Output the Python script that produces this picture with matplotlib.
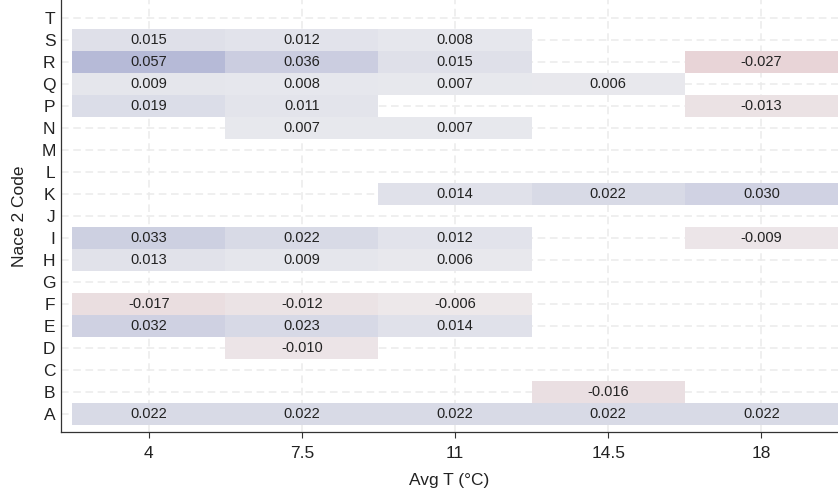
import numpy as np
import matplotlib
matplotlib.use("Agg")
import matplotlib.pyplot as plt
from matplotlib.colors import LinearSegmentedColormap, Normalize

plt.rcParams['font.family'] = ['Liberation Sans', 'DejaVu Sans']

# rows of the heatmap, bottom to top
codes = ['A', 'B', 'C', 'D', 'E', 'F', 'G', 'H', 'I', 'J',
         'K', 'L', 'M', 'N', 'P', 'Q', 'R', 'S', 'T']
temps = [4, 7.5, 11, 14.5, 18]
temp_labels = ['4', '7.5', '11', '14.5', '18']

# effect per code (row) and temperature (column); None = no tile
effects = [
    [0.022, 0.022, 0.022, 0.022, 0.022],    # A
    [None, None, None, -0.016, None],       # B
    [None, None, None, None, None],         # C
    [None, -0.010, None, None, None],       # D
    [0.032, 0.023, 0.014, None, None],      # E
    [-0.017, -0.012, -0.006, None, None],   # F
    [None, None, None, None, None],         # G
    [0.013, 0.009, 0.006, None, None],      # H
    [0.033, 0.022, 0.012, None, -0.009],    # I
    [None, None, None, None, None],         # J
    [None, None, 0.014, 0.022, 0.030],      # K
    [None, None, None, None, None],         # L
    [None, None, None, None, None],         # M
    [None, 0.007, 0.007, None, None],       # N
    [0.019, 0.011, None, None, -0.013],     # P
    [0.009, 0.008, 0.007, 0.006, None],     # Q
    [0.057, 0.036, 0.015, None, -0.027],    # R
    [0.015, 0.012, 0.008, None, None],      # S
    [None, None, None, None, None],         # T
]

cmap = LinearSegmentedColormap.from_list('div', ['#E1B8BC', '#EEEEF0', '#B6BAD7'])
norm = Normalize(vmin=-0.057, vmax=0.057)

fig = plt.figure(figsize=(8.38, 4.92), dpi=100)
ax = fig.add_axes([0.073, 0.122, 0.927, 0.878])

ax.grid(True, color='#EBEBEB', linestyle=(0, (5, 3)), linewidth=1.1, zorder=0)
ax.set_axisbelow(True)

tile_w = 3.5
for i, code in enumerate(codes):
    for j, t in enumerate(temps):
        v = effects[i][j]
        if v is None:
            continue
        ax.bar(t, 1.0, width=tile_w, bottom=i - 0.5, color=cmap(norm(v)),
               linewidth=0, zorder=2)
        ax.text(t, i, '%.3f' % v, ha='center', va='center', fontsize=10.5,
                color='#222222', zorder=3)

ax.set_xlim(2.0, 19.75)
ax.set_ylim(-0.82, 18.82)
ax.set_xticks(temps)
ax.set_xticklabels(temp_labels)
ax.set_yticks(range(len(codes)))
ax.set_yticklabels(codes)
ax.tick_params(axis='x', length=4, width=0.8, color='#333333', labelsize=12.5,
               labelcolor='#222222', pad=6)
ax.tick_params(axis='y', length=0, labelsize=12.5, labelcolor='#222222', pad=4)

for s in ['top', 'right']:
    ax.spines[s].set_visible(False)
for s in ['left', 'bottom']:
    ax.spines[s].set_color('#333333')
    ax.spines[s].set_linewidth(0.9)

ax.set_xlabel('Avg T (°C)', fontsize=12.5, color='#222222', labelpad=9)
ax.set_ylabel('Nace 2 Code', fontsize=12.5, color='#222222', labelpad=10)

fig.savefig('out.png', dpi=100)
